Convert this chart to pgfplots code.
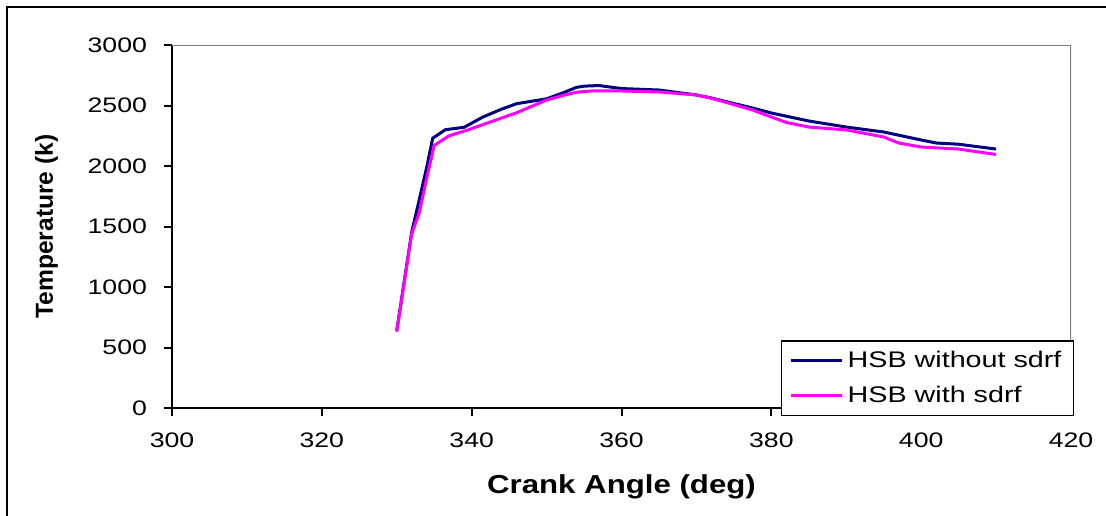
\documentclass[border=0pt]{standalone}
\usepackage{pgfplots}
\pgfplotsset{compat=1.18}
\usepackage{fontspec}
\setmainfont{Liberation Sans}
\newfontfamily\widefont{Liberation Sans}[FakeStretch=1.27]
\newfontfamily\labfont{Liberation Sans}[FakeStretch=1.2]
\definecolor{navyline}{RGB}{0,0,128}
\definecolor{magline}{RGB}{255,0,255}
\newcommand\tickfont{\widefont\fontsize{10.5}{12}\selectfont}
\newcommand\legfont{\widefont\fontsize{11.3}{13}\selectfont}

\begin{document}
\begin{tikzpicture}
\useasboundingbox (0pt,0pt) rectangle (553pt,257.5pt);
\fill[white] (0pt,0pt) rectangle (553pt,257.5pt);
\draw[line width=1pt] (3.5pt,-5pt) -- (3.5pt,254pt) -- (560pt,254pt);
\begin{axis}[
  at={(86pt,53.5pt)}, anchor=south west,
  scale only axis, width=449.5pt, height=181.5pt,
  xmin=300, xmax=420, ymin=0, ymax=3000,
  xtick={300,320,...,420}, ytick={0,500,...,3000},
  axis x line=bottom, axis y line=left,
  axis line style={-, line width=1pt, black},
  tick align=outside, major tick length=4pt,
  tick style={line width=1pt, black},
  /pgf/number format/assume math mode=true,
  /pgf/number format/1000 sep={},
  scaled y ticks=false,
  ticklabel style={font=\tickfont},
  yticklabel style={xshift=-5pt},
  xticklabel style={yshift=-5pt},
  xlabel={Crank Angle (deg)},
  ylabel={Temperature (k)},
  xlabel style={at={(axis description cs:0.5,-0.2342)}, anchor=base,
    font=\labfont\fontsize{13}{15}\selectfont\bfseries},
  ylabel style={at={(axis description cs:-0.1324,0.5)}, anchor=base,
    font=\fontsize{12.3}{14}\selectfont\bfseries},
  legend style={at={(axis description cs:0.6774,0.1873)}, anchor=north west,
    draw=black, line width=0.75pt, fill=white, font=\legfont,
    inner xsep=4pt, inner ysep=3pt, row sep=4pt},
  legend cell align=left,
  legend image code/.code={\draw[#1, line width=1.5pt] (0pt,0pt) -- (25.5pt,0pt);},
]
\draw[gray, line width=0.75pt] (rel axis cs:0,1) -- (rel axis cs:1,1) -- (rel axis cs:1,0);
\addplot[navyline, line width=1.5pt, line join=round] coordinates {
(330,640) (332,1455) (333,1720) (334,1990) (334.8,2230) (336.5,2300)
(339,2320) (341.5,2405) (344,2470) (346,2515) (350,2555) (352,2600)
(354,2650) (355,2660) (357,2665) (360,2640) (365,2628) (370,2587)
(372,2562) (377.5,2479) (380,2438) (385,2372) (390,2322) (395,2281)
(400,2215) (402,2190) (405,2180) (410,2140)
};
\addlegendentry{HSB without sdrf}
\addplot[magline, line width=1.5pt, line join=round] coordinates {
(330,630) (332,1440) (333,1610) (334,1900) (335,2170) (337,2250)
(339.5,2298) (343,2375) (346,2440) (350,2545) (352,2580) (354,2610)
(356,2620) (360,2620) (365,2612) (370,2587) (372,2560) (377.5,2463)
(380,2405) (382,2360) (385,2322) (390,2298) (395,2240) (397,2190)
(400,2157) (405,2140) (410,2095)
};
\addlegendentry{HSB with sdrf}
\end{axis}
\end{tikzpicture}
\end{document}
